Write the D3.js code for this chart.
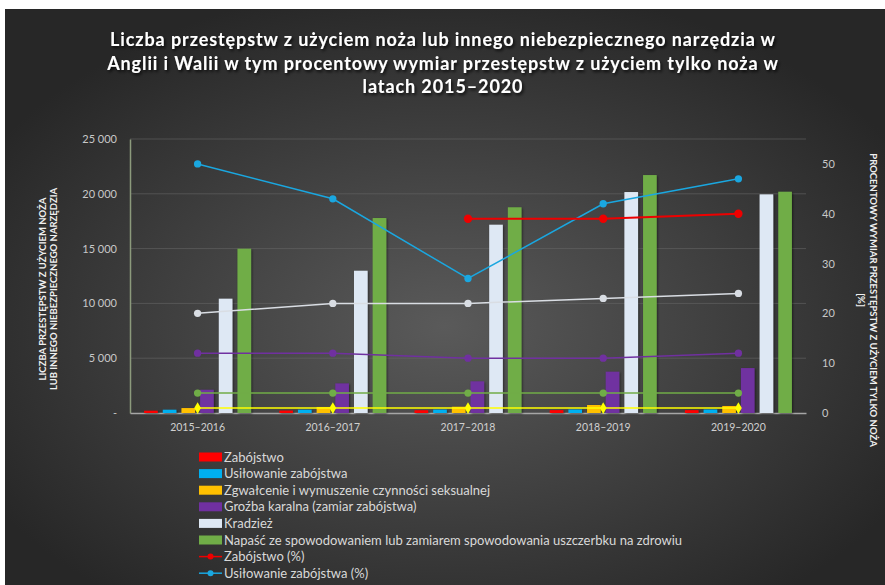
<!DOCTYPE html>
<html>
<head>
<meta charset="utf-8">
<script src="https://cdn.jsdelivr.net/npm/d3@7"></script>
<style>
  body { margin: 0; background: #fff; }
  svg { display: block; font-family: Lato, "Open Sans", sans-serif; }
</style>
</head>
<body>
<div id="chart"></div>
<script>
// categories and values
var categories = ['2015–2016', '2016–2017', '2017–2018', '2018–2019', '2019–2020'];

var zabojstwo = [210, 220, 250, 260, 260];
var usilowanie = [300, 300, 310, 320, 320];
var zgwalcenie = [450, 550, 570, 730, 640];
var grozba = [2120, 2700, 2890, 3770, 4100];
var kradziez = [10430, 12980, 17180, 20160, 19950];
var napasc = [14990, 17790, 18770, 21710, 20190];

// percent series (right axis)
var zabojstwoPct = [null, null, 39, 39, 40];
var usilowaniePct = [50, 43, 27, 42, 47];
var zgwalceniePct = [1, 1, 1, 1, 1];
var grozbaPct = [12, 12, 11, 11, 12];
var kradziezPct = [20, 22, 22, 23, 24];
var napascPct = [4, 4, 4, 4, 4];

var leftTicks = [0, 5000, 10000, 15000, 20000, 25000];
var rightTicks = [0, 10, 20, 30, 40, 50];

var titleLines = [
    'Liczba przestępstw z użyciem noża lub innego niebezpiecznego narzędzia w',
    'Anglii i Walii w tym procentowy wymiar przestępstw z użyciem tylko noża w',
    'latach 2015–2020'
];

var barSeries = [
    { name: 'Zabójstwo', values: zabojstwo, color: '#ff0000' },
    { name: 'Usiłowanie zabójstwa', values: usilowanie, color: '#00b0f0' },
    { name: 'Zgwałcenie i wymuszenie czynności seksualnej', values: zgwalcenie, color: '#ffc000' },
    { name: 'Groźba karalna (zamiar zabójstwa)', values: grozba, color: '#7030a0' },
    { name: 'Kradzież', values: kradziez, color: '#dee8f4' },
    { name: 'Napaść ze spowodowaniem lub zamiarem spowodowania uszczerbku na zdrowiu', values: napasc, color: '#70ad47' }
];

var lineSeries = [
    { name: 'Napaść (%)', values: napascPct, color: '#70ad47', sym: 'circle' },
    { name: 'Kradzież (%)', values: kradziezPct, color: '#d9dde3', sym: 'circle' },
    { name: 'Groźba karalna (%)', values: grozbaPct, color: '#7030a0', sym: 'circle' },
    { name: 'Zgwałcenie (%)', values: zgwalceniePct, color: '#ffff00', sym: 'diamond' },
    { name: 'Usiłowanie zabójstwa (%)', values: usilowaniePct, color: '#1aa7e0', sym: 'circle' },
    { name: 'Zabójstwo (%)', values: zabojstwoPct, color: '#ee0000', sym: 'circle' }
];

// legend shows only what fits on the picture
var legendItems = [
    { name: 'Zabójstwo', color: '#ff0000', type: 'bar' },
    { name: 'Usiłowanie zabójstwa', color: '#00b0f0', type: 'bar' },
    { name: 'Zgwałcenie i wymuszenie czynności seksualnej', color: '#ffc000', type: 'bar' },
    { name: 'Groźba karalna (zamiar zabójstwa)', color: '#7030a0', type: 'bar' },
    { name: 'Kradzież', color: '#dee8f4', type: 'bar' },
    { name: 'Napaść ze spowodowaniem lub zamiarem spowodowania uszczerbku na zdrowiu', color: '#70ad47', type: 'bar' },
    { name: 'Zabójstwo (%)', color: '#ee0000', type: 'line' },
    { name: 'Usiłowanie zabójstwa (%)', color: '#1aa7e0', type: 'line' }
];

var W = 885, H = 585;
var plot = { left: 130, right: 806, top: 139, bottom: 413 };

var svg = d3.select('#chart').append('svg')
    .attr('width', W)
    .attr('height', H);

var defs = svg.append('defs');

var bg = defs.append('radialGradient')
    .attr('id', 'bg')
    .attr('cx', '50%').attr('cy', '55%').attr('r', '60%');
bg.append('stop').attr('offset', '0%').attr('stop-color', '#5a5a5a');
bg.append('stop').attr('offset', '100%').attr('stop-color', '#272727');

var shadow = defs.append('filter').attr('id', 'shadow')
    .attr('x', '-10%').attr('y', '-30%').attr('width', '120%').attr('height', '160%');
shadow.append('feDropShadow')
    .attr('dx', 1.5).attr('dy', 2).attr('stdDeviation', 1.5)
    .attr('flood-color', '#000').attr('flood-opacity', 0.8);

var barShadow = defs.append('filter').attr('id', 'barShadow')
    .attr('x', '-30%').attr('y', '-5%').attr('width', '160%').attr('height', '110%');
barShadow.append('feDropShadow')
    .attr('dx', 1).attr('dy', 1).attr('stdDeviation', 1)
    .attr('flood-color', '#000').attr('flood-opacity', 0.5);

// white strip at top and left, dark panel for the rest
svg.append('rect').attr('x', 0).attr('y', 0).attr('width', W).attr('height', H).attr('fill', '#fff');
svg.append('rect').attr('x', 5).attr('y', 9).attr('width', W - 5).attr('height', H - 9).attr('fill', 'url(#bg)');

// title
svg.append('g')
    .attr('filter', 'url(#shadow)')
    .selectAll('text')
    .data(titleLines)
    .join('text')
    .attr('x', 443)
    .attr('y', function (d, i) { return 46 + i * 23.5; })
    .attr('text-anchor', 'middle')
    .attr('fill', '#ffffff')
    .style('font-size', '18px')
    .style('font-weight', 'bold')
    .style('letter-spacing', '0.9px')
    .text(function (d) { return d; });

// scales
var x0 = d3.scaleBand()
    .domain(categories)
    .range([plot.left, plot.right]);

var groupWidth = 107;
var x1 = d3.scaleBand()
    .domain(d3.range(barSeries.length))
    .range([(x0.bandwidth() - groupWidth) / 2, (x0.bandwidth() + groupWidth) / 2])
    .paddingInner(0.27);

var yLeft = d3.scaleLinear().domain([0, 25000]).range([plot.bottom, plot.top]);
var yRight = d3.scaleLinear().domain([0, 55]).range([plot.bottom, plot.top]);

// gridlines
svg.append('g')
    .selectAll('line')
    .data(leftTicks.slice(1))
    .join('line')
    .attr('x1', plot.left).attr('x2', plot.right)
    .attr('y1', function (d) { return yLeft(d); })
    .attr('y2', function (d) { return yLeft(d); })
    .attr('stroke', '#666666')
    .attr('stroke-opacity', 0.6)
    .attr('stroke-width', 1);

// left axis
var leftAxis = svg.append('g')
    .attr('transform', 'translate(' + plot.left + ',0)')
    .call(d3.axisLeft(yLeft).tickValues(leftTicks).tickSize(0).tickPadding(13)
        .tickFormat(function (d) { return d === 0 ? '-' : d3.format(',')(d).replace(',', ' '); }));
leftAxis.select('.domain').attr('stroke', '#8c9a7c').attr('stroke-width', 1.5);
leftAxis.selectAll('text')
    .attr('fill', '#c8c8c8')
    .style('font-size', '11px')
    .style('font-family', 'Lato, sans-serif');

// right axis
var rightAxis = svg.append('g')
    .attr('transform', 'translate(' + plot.right + ',0)')
    .call(d3.axisRight(yRight).tickValues(rightTicks).tickSize(0).tickPadding(16));
rightAxis.select('.domain').remove();
rightAxis.selectAll('text')
    .attr('fill', '#c8c8c8')
    .style('font-size', '11px')
    .style('font-family', 'Lato, sans-serif');

// x axis
var xAxis = svg.append('g')
    .attr('transform', 'translate(0,' + plot.bottom + ')')
    .call(d3.axisBottom(x0).tickSize(0).tickPadding(11));
xAxis.select('.domain').attr('stroke', '#a6a6a6').attr('stroke-width', 1.5);
xAxis.selectAll('text')
    .attr('fill', '#d0d0d0')
    .style('font-size', '10.5px')
    .style('font-family', 'Lato, sans-serif');

// axis titles
svg.append('text')
    .attr('transform', 'translate(45.5,289) rotate(-90)')
    .attr('text-anchor', 'middle')
    .attr('fill', '#f0f0f0')
    .style('font-size', '9.5px')
    .style('font-weight', 'bold')
    .selectAll('tspan')
    .data(['LICZBA PRZESTĘPSTW Z UŻYCIEM NOŻA', 'LUB INNEGO NIEBEZPIECZNEGO NARZĘDZIA'])
    .join('tspan')
    .attr('x', 0)
    .attr('dy', function (d, i) { return i === 0 ? 0 : 11; })
    .text(function (d) { return d; });

svg.append('text')
    .attr('transform', 'translate(870,300) rotate(90)')
    .attr('text-anchor', 'middle')
    .attr('fill', '#f0f0f0')
    .style('font-size', '9.5px')
    .style('font-weight', 'bold')
    .selectAll('tspan')
    .data(['PROCENTOWY WYMIAR PRZESTĘPSTW Z UŻYCIEM TYLKO NOŻA', '[%]'])
    .join('tspan')
    .attr('x', 0)
    .attr('dy', function (d, i) { return i === 0 ? 0 : 12; })
    .text(function (d) { return d; });

// bars
var barGroups = svg.append('g')
    .selectAll('g')
    .data(barSeries)
    .join('g')
    .attr('fill', function (d) { return d.color; })
    .attr('filter', 'url(#barShadow)');

barGroups.selectAll('rect')
    .data(function (d, si) {
        return d.values.map(function (v, ci) { return { si: si, cat: categories[ci], v: v }; });
    })
    .join('rect')
    .attr('x', function (d) { return x0(d.cat) + x1(d.si); })
    .attr('width', x1.bandwidth())
    .attr('y', function (d) { return yLeft(d.v); })
    .attr('height', function (d) { return yLeft(0) - yLeft(d.v); });

// lines on the right axis
var line = d3.line()
    .defined(function (d) { return d.v != null; })
    .x(function (d) { return x0(d.cat) + x0.bandwidth() / 2; })
    .y(function (d) { return yRight(d.v); });

lineSeries.forEach(function (s) {
    var pts = s.values.map(function (v, i) { return { cat: categories[i], v: v }; });
    var g = svg.append('g');
    g.append('path')
        .attr('d', line(pts))
        .attr('fill', 'none')
        .attr('stroke', s.color)
        .attr('stroke-width', s.color === '#ee0000' ? 2 : 1.5);
    var symType = s.sym === 'diamond' ? d3.symbolDiamond : d3.symbolCircle;
    g.selectAll('path.pt')
        .data(pts.filter(function (d) { return d.v != null; }))
        .join('path')
        .attr('class', 'pt')
        .attr('transform', function (d) {
            return 'translate(' + line.x()(d) + ',' + line.y()(d) + ')';
        })
        .attr('d', d3.symbol().type(symType).size(s.sym === 'diamond' ? 40 : (s.color === '#ee0000' ? 55 : 42)))
        .attr('fill', s.color);
});

// legend
var legend = svg.append('g')
    .selectAll('g')
    .data(legendItems)
    .join('g')
    .attr('transform', function (d, i) { return 'translate(199,' + (457 + i * 16.6) + ')'; });

legend.filter(function (d) { return d.type === 'bar'; })
    .append('rect')
    .attr('x', 0).attr('y', -4.5)
    .attr('width', 23).attr('height', 9)
    .attr('fill', function (d) { return d.color; });

legend.filter(function (d) { return d.type === 'line'; })
    .append('line')
    .attr('x1', 0).attr('x2', 23)
    .attr('stroke', function (d) { return d.color; })
    .attr('stroke-width', 1.5);

legend.filter(function (d) { return d.type === 'line'; })
    .append('circle')
    .attr('cx', 11.5).attr('r', 3)
    .attr('fill', function (d) { return d.color; });

legend.append('text')
    .attr('x', 25)
    .attr('dy', '0.35em')
    .attr('fill', '#d9d9d9')
    .style('font-size', '13px')
    .text(function (d) { return d.name; });
</script>
</body>
</html>
